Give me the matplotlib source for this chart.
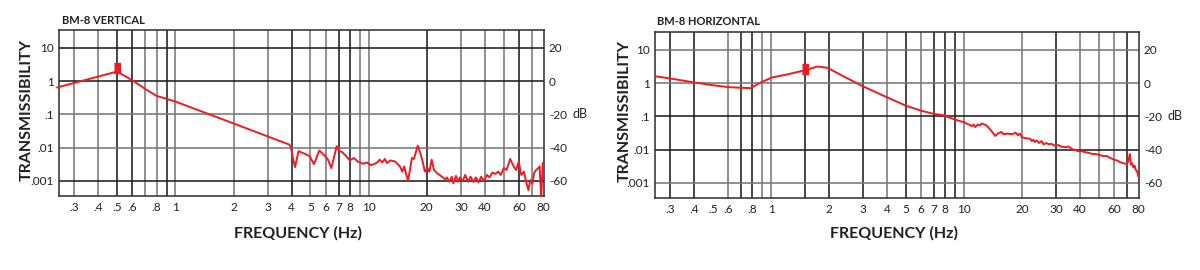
import numpy as np
import matplotlib
matplotlib.use('Agg')
import matplotlib.pyplot as plt
from matplotlib.transforms import blended_transform_factory

plt.rcParams['font.family'] = ['Lato', 'DejaVu Sans']
plt.rcParams['axes.unicode_minus'] = False

# ---- data (frequency in Hz, response in dB) ----
vert_freq = [0.245, 0.5, 0.6, 0.7, 0.8, 1.0, 2.0, 3.88, 3.96, 4.04, 4.16, 4.34,
             4.66, 4.96, 5.21, 5.56, 5.93, 6.16, 6.41, 6.84, 7.05, 7.29, 7.67,
             8.0, 8.38, 8.78, 9.37, 9.80, 10.27, 10.68, 11.10, 11.40, 11.75,
             12.12, 12.45, 12.94, 13.71, 14.53, 14.92, 15.27, 15.69, 16.0,
             16.75, 17.15, 17.54, 17.96, 18.52, 19.03, 19.54, 20.16, 20.62,
             21.19, 21.78, 22.64, 23.98, 24.92, 25.41, 26.20, 26.92, 27.45,
             28.31, 29.09, 29.66, 30.65, 31.58, 32.69, 33.69, 34.85, 35.91,
             37.0, 38.21, 39.55, 40.9, 42.2, 43.7, 45.3, 46.8, 48.3, 50.0,
             51.7, 54.0, 56.3, 58.0, 59.8, 61.6, 63.6, 65.3, 67.1, 68.7, 70.4,
             71.8, 73.5, 75.6, 76.7, 77.3, 78.2, 79.6]
vert_db = [-3.8, 5.8, 0.4, -4.8, -8.9, -12.3, -25.5, -38.2, -39.6, -45.3, -51.8,
           -42.2, -43.7, -45.3, -50.0, -41.8, -44.9, -47.3, -52.4, -39.2, -42.2,
           -42.7, -45.3, -47.8, -46.3, -48.4, -49.8, -49.0, -50.6, -50.0, -49.0,
           -47.3, -49.0, -46.9, -49.4, -47.8, -48.4, -51.4, -54.5, -51.4, -56.5,
           -60.0, -46.3, -46.9, -42.9, -38.8, -43.3, -48.4, -54.5, -52.4, -54.5,
           -47.3, -53.5, -55.5, -57.6, -59.2, -58.0, -60.6, -57.6, -61.6, -57.1,
           -60.6, -58.0, -60.2, -56.5, -60.6, -57.6, -60.8, -58.0, -61.0, -57.6,
           -60.2, -56.5, -58.0, -55.1, -55.9, -54.5, -56.5, -52.4, -53.5, -46.9,
           -51.4, -53.5, -48.4, -56.5, -54.5, -60.6, -65.7, -59.6, -61.6, -55.5,
           -53.5, -52.4, -51.4, -60.0, -69.4, -49.4]

horiz_freq = [0.255, 0.3, 0.4, 0.494, 0.6, 0.7, 0.784, 0.884, 1.01, 1.21, 1.5,
              1.74, 1.96, 2.4, 3.0, 4.0, 5.0, 6.0, 7.0, 7.73, 9.0, 10.0, 11.01,
              11.22, 11.44, 11.80, 12.12, 12.36, 12.75, 13.09, 13.87, 14.53,
              14.98, 15.57, 16.06, 16.82, 17.82, 18.52, 19.03, 19.47, 20.0,
              21.19, 22.0, 22.5, 22.9, 23.3, 23.8, 24.5, 25.2, 25.9, 26.7, 27.6,
              28.3, 29.4, 30.7, 32.0, 33.5, 35.0, 36.1, 37.5, 39.1, 40.8, 42.6,
              44.4, 46.3, 48.3, 50.4, 52.7, 55.0, 57.4, 60.0, 62.5, 65.0, 67.8,
              70.0, 71.4, 72.4, 73.5, 74.6, 75.6, 76.7, 77.8, 78.9, 80.0]
horiz_db = [4.0, 2.8, 0.4, -1.2, -2.4, -2.8, -3.0, 0.4, 3.4, 5.2, 7.8, 10.0, 9.2,
            3.8, -2.0, -8.6, -13.6, -16.6, -18.6, -19.2, -22.0, -23.6, -25.9,
            -24.9, -26.5, -24.9, -25.5, -24.3, -24.9, -25.5, -28.8, -31.8, -30.4,
            -29.4, -30.8, -30.4, -30.8, -29.8, -31.4, -30.4, -32.7, -33.3, -33.5,
            -34.9, -34.1, -35.5, -34.5, -36.1, -34.9, -36.9, -36.1, -36.9, -36.5,
            -37.6, -37.3, -38.2, -38.6, -38.2, -39.6, -40.2, -41.0, -41.0, -41.6,
            -42.0, -42.7, -42.7, -43.3, -43.9, -43.9, -45.1, -46.1, -46.7, -47.8,
            -48.4, -48.8, -46.3, -42.7, -49.2, -48.4, -50.8, -49.8, -52.4, -52.9,
            -55.9]

vert_mark = (0.5, 2.45)
horiz_mark = (1.5, 2.73)

x_ticks = [0.3, 0.4, 0.5, 0.6, 0.8, 1, 2, 3, 4, 5, 6, 7, 8, 10, 20, 30, 40, 60, 80]
x_labels = ['.3', '.4', '.5', '.6', '.8', '1', '2', '3', '4', '5', '6', '7', '8',
            '10', '20', '30', '40', '60', '80']
y_ticks = [10, 1, 0.1, 0.01, 0.001]
y_labels = ['10', '1', '.1', '.01', '.001']
db_ticks = [20, 0, -20, -40, -60]

# grid lines: (frequency, dark?)
vert_vgrid = [(0.3, 0), (0.4, 0), (0.5, 1), (0.6, 1), (0.7, 0), (0.8, 0), (0.9, 1),
              (1, 0), (2, 0), (3, 0), (4, 1), (5, 0), (6, 0), (7, 1), (8, 1),
              (9, 0), (10, 0), (20, 1), (30, 0), (40, 0), (50, 0), (60, 1), (70, 0)]
vert_hgrid = [(10, 1), (1, 1), (0.1, 0), (0.01, 0), (0.001, 1)]
horiz_vgrid = [(0.3, 1), (0.4, 1), (0.6, 0), (0.7, 1), (0.8, 1), (0.9, 0), (1, 0),
               (1.5, 1), (2, 1), (3, 1), (4, 0), (5, 1), (6, 0), (7, 1), (8, 1),
               (9, 1), (10, 0), (20, 0), (30, 1), (40, 0), (50, 0), (60, 0), (70, 1)]
horiz_hgrid = [(10, 0), (1, 0), (0.1, 1), (0.01, 1), (0.001, 0)]

RED = '#ec1c24'
DARK = '#1e1e1e'
GRAY = '#787878'
TXT = '#231f20'
XLIM = (0.25, 80.8)
YLIM = (10 ** -3.46, 10 ** 1.54)

fig = plt.figure(figsize=(12, 2.7), dpi=100)


def panel(rect, freq, db, mark, vgrid, hgrid, title, title_xy, ylab_xy, xlab_xy):
    ax = fig.add_axes(rect)
    ax.set_xscale('log')
    ax.set_yscale('log')
    ax.set_xlim(*XLIM)
    ax.set_ylim(*YLIM)

    for f, dark in vgrid:
        ax.axvline(f, color=DARK if dark else GRAY, lw=1.15, zorder=1)
    for t, dark in hgrid:
        ax.axhline(t, color=DARK if dark else GRAY, lw=1.15, zorder=1)

    trans = 10 ** (np.array(db) / 20.0)
    ax.plot(freq, trans, color=RED, lw=1.4, zorder=3, clip_on=False)
    ax.plot([mark[0]], [mark[1]], marker=[(-0.6, -1), (0.6, -1), (0.6, 1), (-0.6, 1)],
            ms=7, color=RED, zorder=4, linestyle='none')

    ax.xaxis.set_major_locator(matplotlib.ticker.FixedLocator(x_ticks))
    ax.xaxis.set_minor_locator(matplotlib.ticker.NullLocator())
    ax.set_xticklabels(x_labels)
    ax.yaxis.set_major_locator(matplotlib.ticker.FixedLocator(y_ticks))
    ax.yaxis.set_minor_locator(matplotlib.ticker.NullLocator())
    ax.set_yticklabels(y_labels)
    ax.tick_params(length=0, labelsize=8.5, colors=TXT, pad=4)
    ax.tick_params(axis='y', pad=3.5)
    for s in ax.spines.values():
        s.set_color('#333333')
        s.set_linewidth(1.15)

    ax2 = ax.twinx()
    ax2.set_ylim(20 * np.log10(YLIM[0]), 20 * np.log10(YLIM[1]))
    ax2.set_yticks(db_ticks)
    ax2.tick_params(length=0, labelsize=8.5, colors=TXT, pad=3.5)
    for s in ax2.spines.values():
        s.set_visible(False)
    tr = blended_transform_factory(ax2.transAxes, ax2.transData)
    ax2.text(1.059, -20, 'dB', transform=tr, fontsize=9, va='center', ha='left',
             color=TXT)

    fig.text(title_xy[0] / 1200, 1 - title_xy[1] / 270, title, fontsize=8,
             fontweight='bold', color=TXT, ha='left', va='baseline')
    fig.text(ylab_xy[0] / 1200, 1 - ylab_xy[1] / 270, 'TRANSMISSIBILITY',
             rotation=90, fontsize=11.5, fontweight='bold', color=TXT,
             ha='center', va='center')
    fig.text(xlab_xy[0] / 1200, 1 - xlab_xy[1] / 270, 'FREQUENCY (Hz)',
             fontsize=11.5, fontweight='bold', color=TXT,
             ha='center', va='center')
    return ax


panel([59 / 1200, 1 - 196 / 270, 485 / 1200, 166 / 270], vert_freq, vert_db,
      vert_mark, vert_vgrid, vert_hgrid, 'BM-8 VERTICAL',
      (62, 24), (27, 110), (298, 233))
panel([655 / 1200, 1 - 198 / 270, 484 / 1200, 166 / 270], horiz_freq, horiz_db,
      horiz_mark, horiz_vgrid, horiz_hgrid, 'BM-8 HORIZONTAL',
      (657, 25), (625, 111), (894, 233))

fig.savefig('out.png', dpi=100)
